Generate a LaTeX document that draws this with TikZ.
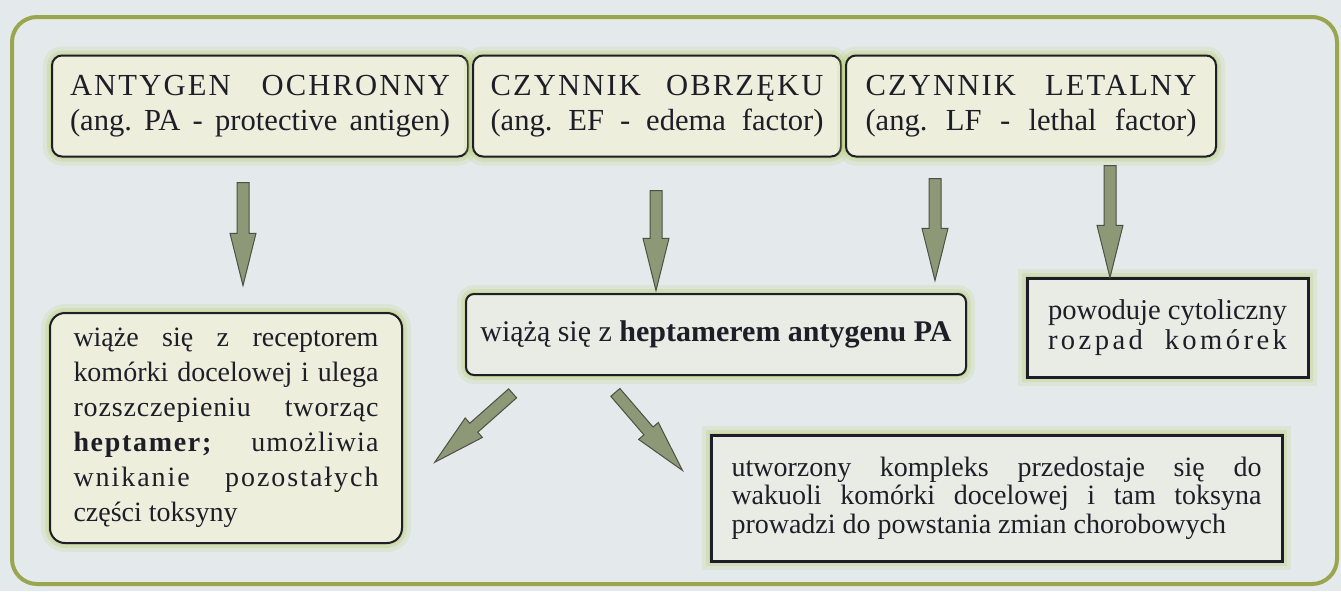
\documentclass[tikz,border=0pt]{standalone}
\usepackage{fontspec}
\setmainfont{Liberation Serif}
\usetikzlibrary{positioning,shapes.arrows}
\definecolor{bgc}{HTML}{E4E9EB}
\definecolor{framec}{HTML}{9AA550}
\definecolor{glowc}{HTML}{BCCF7A}
\definecolor{boxc}{HTML}{EDEFDC}
\definecolor{paleboxc}{HTML}{E8ECE4}
\definecolor{inkc}{HTML}{1E1E28}
\definecolor{arrfill}{HTML}{8D9876}
\definecolor{arrline}{HTML}{4B5046}
\newcommand\fitline[2]{\makebox[#1][s]{#2}}
\newcommand\spread[2][7]{{\addfontfeature{LetterSpace=#1}#2}}
\frenchspacing

\begin{document}
\begin{tikzpicture}[x=0.5pt, y=-0.5pt,
    glow/.style={preaction={draw=glowc, line width=9pt, draw opacity=.18},
                 preaction={draw=glowc, line width=5pt, draw opacity=.3},
                 preaction={draw=glowc, line width=2pt, draw opacity=.5}},
    topbox/.style={glow, draw=inkc, line width=1pt, fill=boxc, text=inkc,
                   rounded corners=5pt, inner sep=0pt, minimum height=50.5pt,
                   align=center, font=\fontsize{15.3}{17.5}\selectfont},
    roundbox/.style={glow, draw=inkc, line width=1pt, fill=boxc, text=inkc,
                     inner sep=0pt, font=\fontsize{14}{17.5}\selectfont},
    squarebox/.style={glow, draw=inkc, line width=1.5pt, fill=paleboxc, text=inkc,
                      inner sep=0pt, align=left},
    blockarr/.style={single arrow, draw=arrline, fill=arrfill, line width=.5pt,
                     inner xsep=0pt, inner ysep=2.75pt, anchor=tail,
                     single arrow head extend=3.5pt, single arrow tip angle=28}]
    \useasboundingbox (0,0) rectangle (1341,591);
    \fill[bgc] (0,0) rectangle (1341,591);
    \draw[framec, line width=2pt, rounded corners=12.5pt] (12,17) rectangle (1337,584);

    \node[topbox, minimum width=208pt] (pa) at (260,106)
        {\fitline{190pt}{\spread{ANTYGEN OCHRONNY}}\\ \fitline{190pt}{(ang. PA - protective antigen)}};
    \node[topbox, minimum width=184pt, right=1.5pt of pa] (ef)
        {\fitline{166.5pt}{\spread{CZYNNIK OBRZĘKU}}\\ \fitline{166.5pt}{(ang. EF - edema factor)}};
    \node[topbox, minimum width=185pt, right=1.5pt of ef] (lf)
        {\fitline{165.5pt}{\spread{CZYNNIK LETALNY}}\\ \fitline{165.5pt}{(ang. LF - lethal factor)}};

    \node[roundbox, rounded corners=7.5pt, align=left, minimum width=176pt,
          minimum height=115pt] (receptor) at (226,428)
        {\fitline{152.5pt}{wiąże się z receptorem}\\
         \fitline{152.5pt}{komórki docelowej i ulega}\\
         \fitline{152.5pt}{\spread[3]{rozszczepieniu tworząc}}\\
         \fitline{152.5pt}{\textbf{\spread[6]{heptamer;}} \spread[4]{umożliwia}}\\
         \fitline{152.5pt}{\spread[7]{wnikanie pozostałych}}\\
         części toksyny};
    \node[roundbox, fill=paleboxc, rounded corners=4pt, minimum width=250pt,
          minimum height=40.5pt, font=\fontsize{15}{17.5}\selectfont] (heptamer) at (716,334.5)
        {wiążą się z \textbf{heptamerem antygenu PA}};
    \node[squarebox, minimum width=140.5pt, minimum height=49.5pt,
          font=\fontsize{14.3}{15}\selectfont] (lysis) at (1167.5,327.5)
        {\fitline{119.5pt}{powoduje cytoliczny}\\
         \fitline{119.5pt}{\spread[12]{rozpad komórek}}};
    \node[squarebox, minimum width=285.5pt, minimum height=63pt,
          font=\fontsize{14}{14.2}\selectfont] (complex) at (996.5,498)
        {\fitline{265pt}{utworzony kompleks przedostaje się do}\\
         \fitline{265pt}{wakuoli komórki docelowej i tam toksyna}\\
         prowadzi do powstania zmian chorobowych};

    \node[blockarr, minimum height=51.5pt, rotate=-90] (pa-down) at (243,182) {};
    \node[blockarr, minimum height=50pt, rotate=-90] (ef-down) at (656,190) {};
    \node[blockarr, minimum height=51pt, rotate=-90] (lf-down) at (935,178) {};
    \node[blockarr, minimum height=56pt, rotate=-90] (lf-lysis) at (1110,165) {};
    \node[blockarr, minimum height=52pt, rotate=221.5] (to-receptor) at (513,393) {};
    \node[blockarr, minimum height=51.5pt, rotate=-49.3] (to-complex) at (615,392) {};
\end{tikzpicture}
\end{document}
